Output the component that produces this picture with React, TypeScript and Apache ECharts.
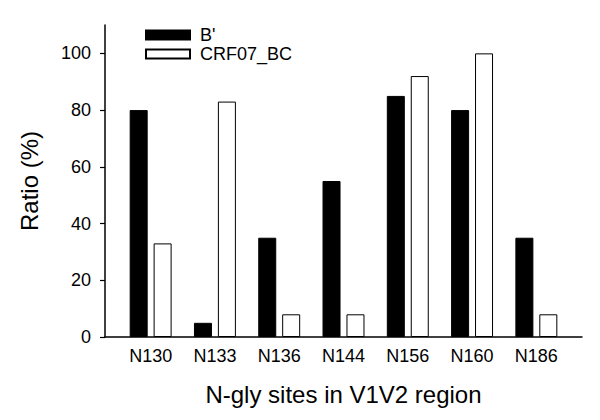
import React, { useEffect, useRef } from "react";
import * as echarts from "echarts";

const categories = ["N130", "N133", "N136", "N144", "N156", "N160", "N186"];
const bPrime = [80, 5, 35, 55, 85, 80, 35];
const crf07 = [33, 83, 8, 8, 92, 100, 8];
const yTicks = [0, 20, 40, 60, 80, 100];
const xTicks = [0, 1, 2, 3, 4, 5, 6];

const FONT = "Liberation Sans, Arial, Helvetica, sans-serif";

export default function App() {
  const ref = useRef<HTMLDivElement>(null);
  useEffect(() => {
    if (!ref.current) return;
    const chart = echarts.init(ref.current, undefined, { renderer: "svg" });
    chart.setOption({
      animation: false,
      backgroundColor: "#ffffff",
      textStyle: { fontFamily: FONT, color: "#000" },
      grid: { left: 105, right: 18, top: 25, bottom: 83, containLabel: false },
      legend: {
        orient: "vertical",
        left: 145,
        top: 26,
        padding: 0,
        itemWidth: 44,
        itemHeight: 9,
        itemGap: 1,
        icon: "rect",
        textStyle: { fontSize: 18, fontFamily: FONT, color: "#000", padding: [0, 0, 0, 5] },
        data: ["B'", "CRF07_BC"],
      },
      xAxis: {
        type: "value",
        min: -0.71,
        max: 6.71,
        name: "N-gly sites in V1V2 region",
        nameLocation: "middle",
        nameGap: 45,
        nameTextStyle: { fontSize: 24, fontFamily: FONT, color: "#000" },
        splitLine: { show: false },
        axisLine: { show: true, onZero: false, lineStyle: { color: "#000", width: 1.5 } },
        axisTick: { show: false },
        axisLabel: {
          customValues: xTicks,
          fontSize: 18,
          color: "#000",
          fontFamily: FONT,
          margin: 10,
          formatter: (v: number) => categories[Math.round(v)] ?? "",
        },
      },
      yAxis: {
        type: "value",
        min: 0,
        max: 110,
        name: "Ratio (%)",
        nameLocation: "middle",
        nameGap: 64,
        nameTextStyle: { fontSize: 24, fontFamily: FONT, color: "#000" },
        splitLine: { show: false },
        axisLine: { show: true, onZero: false, lineStyle: { color: "#000", width: 1.5 } },
        axisTick: { show: true, customValues: yTicks, length: 5, inside: false, lineStyle: { color: "#000", width: 1.2 } },
        axisLabel: { customValues: yTicks, fontSize: 18, color: "#000", fontFamily: FONT, margin: 14 },
      },
      series: [
        {
          name: "B'",
          type: "bar",
          data: bPrime.map((v, i) => [xTicks[i], v]),
          barWidth: 18,
          barGap: "33%",
          itemStyle: { color: "#000", borderColor: "#000", borderWidth: 1 },
        },
        {
          name: "CRF07_BC",
          type: "bar",
          data: crf07.map((v, i) => [xTicks[i], v]),
          barWidth: 18,
          itemStyle: { color: "#fff", borderColor: "#000", borderWidth: 1 },
        },
      ],
    });
    return () => chart.dispose();
  }, []);
  return <div ref={ref} style={{ width: 600, height: 420, margin: -8 }} />;
}
